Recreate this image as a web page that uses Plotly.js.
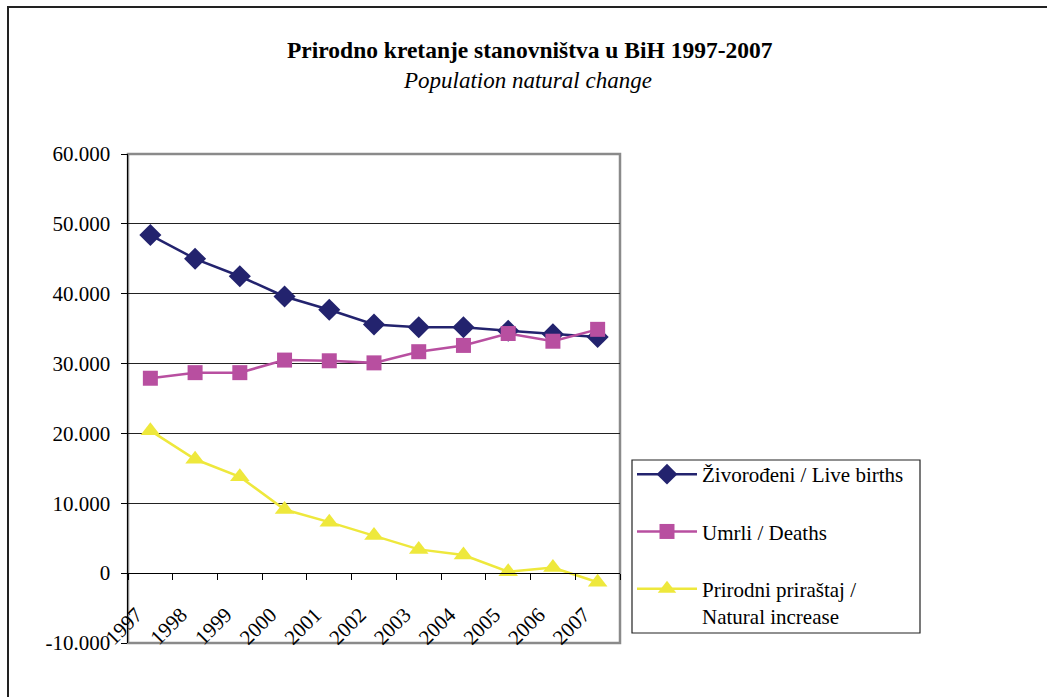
<!DOCTYPE html>
<html>
<head>
<meta charset="utf-8">
<script src="https://cdn.plot.ly/plotly-3.0.1.min.js"></script>
<style>
  html, body { margin: 0; padding: 0; background: #fff; }
  #chart { width: 1047px; height: 697px; }
</style>
</head>
<body>
<div id="chart"></div>
<script>
// ---- Data ----
var years = ["1997","1998","1999","2000","2001","2002","2003","2004","2005","2006","2007"];
var liveBirths = [48400, 45000, 42500, 39600, 37700, 35600, 35200, 35200, 34700, 34200, 33800];
var deaths = [27900, 28700, 28700, 30500, 30400, 30100, 31700, 32600, 34300, 33200, 34900];
var naturalIncrease = [20400, 16300, 13800, 9100, 7300, 5400, 3400, 2600, 200, 800, -1300];
var yTickVals = [-10000, 0, 10000, 20000, 30000, 40000, 50000, 60000];
var yTickText = ["-10.000", "0", "10.000", "20.000", "30.000", "40.000", "50.000", "60.000"];
var seriesNames = ["Živorođeni / Live births", "Umrli / Deaths", "Prirodni priraštaj /<br>Natural increase"];
var titleText = "Prirodno kretanje stanovništva u BiH 1997-2007";
var subtitleText = "Population natural change";

// ---- Layout helpers ----
var W = 1047, H = 697;
var mL = 128, mR = 427, mT = 154, mB = 54;
var pw = W - mL - mR, ph = H - mT - mB;
function px2x(px) { return (px - mL) / pw; }
function py2y(py) { return (H - mB - py) / ph; }

var idx = years.map(function (_, i) { return i; });
var boundaries = years.map(function (_, i) { return i - 0.5; }).concat([years.length - 0.5]);
var yMin = -10000, yMax = 60000;

var FONT = "Liberation Serif, Times New Roman, DejaVu Serif, serif";

var traces = [
  {
    x: idx, y: liveBirths, name: seriesNames[0], type: "scatter", mode: "lines+markers",
    legendgroup: "a",
    line: { color: "#23236e", width: 2.5 },
    marker: { symbol: "diamond", size: 17, color: "#23236e" }
  },
  {
    x: idx, y: deaths, name: seriesNames[1], type: "scatter", mode: "lines+markers",
    legendgroup: "b",
    line: { color: "#b84fa0", width: 2.5 },
    marker: { symbol: "square", size: 15, color: "#b84fa0" }
  },
  {
    x: idx, y: naturalIncrease, name: seriesNames[2], type: "scatter", mode: "lines+markers",
    legendgroup: "c",
    line: { color: "#eee83c", width: 2.5 },
    marker: { symbol: "triangle-up", size: 17, color: "#eee83c" }
  }
];

var layout = {
  width: W, height: H,
  margin: { l: mL, r: mR, t: mT, b: mB, pad: 0 },
  paper_bgcolor: "#ffffff",
  plot_bgcolor: "#ffffff",
  font: { family: FONT, size: 20, color: "#000" },
  showlegend: true,
  xaxis: {
    range: [-0.5, years.length - 0.5],
    anchor: "free",
    position: (0 - yMin) / (yMax - yMin),
    tickmode: "array",
    tickvals: idx,
    ticktext: years,
    ticks: "",
    tickangle: -45,
    tickfont: { family: FONT, size: 21, color: "#000" },
    ticklabelstandoff: 20,
    ticklabelshift: -14,
    showgrid: false,
    zeroline: false,
    showline: true,
    linecolor: "#000",
    linewidth: 1,
    minor: {
      tickmode: "array",
      tickvals: boundaries,
      ticks: "outside",
      ticklen: 6,
      tickcolor: "#000",
      tickwidth: 1,
      showgrid: false
    },
    fixedrange: true
  },
  yaxis: {
    range: [yMin, yMax],
    tickmode: "array",
    tickvals: yTickVals,
    ticktext: yTickText,
    ticks: "outside",
    ticklen: 6,
    tickcolor: "#000",
    tickwidth: 1,
    ticklabelstandoff: 6,
    tickfont: { family: FONT, size: 21, color: "#000" },
    showgrid: true,
    gridcolor: "#222",
    gridwidth: 1,
    zeroline: false,
    showline: true,
    linecolor: "#000",
    linewidth: 1.5,
    fixedrange: true
  },
  legend: {
    x: px2x(632), y: py2y(454),
    xanchor: "left", yanchor: "top",
    bgcolor: "rgba(0,0,0,0)",
    borderwidth: 0,
    font: { family: FONT, size: 21, color: "#000" },
    tracegroupgap: 27,
    valign: "top",
    itemwidth: 60,
    traceorder: "grouped"
  },
  shapes: [
    {
      type: "rect", xref: "paper", yref: "paper", layer: "below",
      x0: 0, x1: 1, y0: 0, y1: 1,
      line: { color: "#8a8a8a", width: 2.5 }, fillcolor: "rgba(0,0,0,0)"
    },
    {
      type: "rect", xref: "paper", yref: "paper", layer: "below",
      x0: px2x(8), x1: px2x(1100), y0: py2y(740), y1: py2y(7),
      line: { color: "#222", width: 2 }, fillcolor: "rgba(0,0,0,0)"
    },
    {
      type: "rect", xref: "paper", yref: "paper", layer: "below",
      x0: px2x(632), x1: px2x(920), y0: py2y(633), y1: py2y(460),
      line: { color: "#222", width: 1.2 }, fillcolor: "#ffffff"
    }
  ],
  annotations: [
    {
      text: "<b>" + titleText + "</b>",
      xref: "paper", yref: "paper", x: px2x(530), y: py2y(50),
      xanchor: "center", yanchor: "middle", showarrow: false,
      font: { family: FONT, size: 23.5, color: "#000" }
    },
    {
      text: "<i>" + subtitleText + "</i>",
      xref: "paper", yref: "paper", x: px2x(527), y: py2y(81),
      xanchor: "center", yanchor: "middle", showarrow: false,
      font: { family: FONT, size: 23, color: "#000" }
    }
  ]
};

Plotly.newPlot("chart", traces, layout, { displayModeBar: false, staticPlot: true });
</script>
</body>
</html>
